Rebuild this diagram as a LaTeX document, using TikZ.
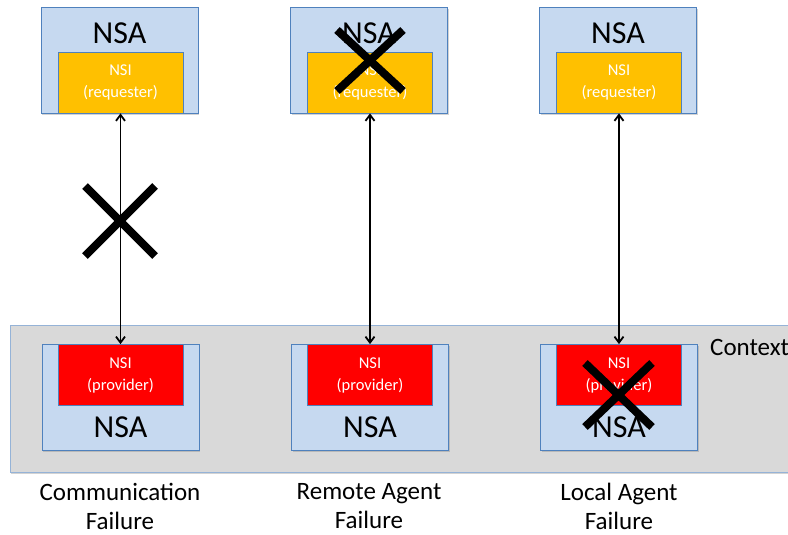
\documentclass[tikz,border=0pt]{standalone}
\usepackage{fontspec}
\setmainfont{Carlito}
\usetikzlibrary{positioning}
\usetikzlibrary{arrows.meta, shadows}

\definecolor{nsablue}{RGB}{198,217,240}
\definecolor{nsaline}{RGB}{79,129,189}
\definecolor{nsiorange}{RGB}{255,192,0}
\definecolor{ctxgray}{RGB}{217,217,217}
\definecolor{ctxline}{RGB}{149,179,215}

\begin{document}
\begin{tikzpicture}[x=1pt,y=1pt,
  agent/.style={rectangle,draw=nsaline,fill=nsablue,line width=0.8pt,minimum width=157pt,minimum height=106pt,inner sep=0pt,drop shadow={shadow xshift=1pt,shadow yshift=-2pt,opacity=0.35}},
  requester/.style={rectangle,draw=nsaline,fill=nsiorange,line width=0.8pt,minimum width=125pt,minimum height=61pt,inner sep=0pt,text=white,font=\fontsize{16.5}{22}\selectfont,align=center},
  provider/.style={requester,fill=red},
  agentlabel/.style={inner sep=0pt,font=\fontsize{32}{38}\selectfont},
  caption/.style={inner sep=0pt,font=\fontsize{25}{29}\selectfont,align=center},
  cross/.style={line width=8pt},
  link/.style={{Straight Barb[length=6pt,width=9pt]}-{Straight Barb[length=6pt,width=9pt]},line width=1.8pt}
]
\useasboundingbox (0,0) rectangle (788,-535);

\draw[fill=ctxgray,draw=ctxline,line width=1pt,drop shadow={shadow xshift=1pt,shadow yshift=-2pt,opacity=0.35}] (10,-325) rectangle (800,-472);
\node[caption,anchor=west] (ctx) at (710,-347) {Context};

\node[agent] (nsaT1) at (119.5,-60) {};
\node[agent] (nsaT2) at (369,-60) {};
\node[agent] (nsaT3) at (618,-60) {};
\node[agentlabel] (labT1) at (119.5,-33) {NSA};
\node[agentlabel] (labT2) at (369,-33) {NSA};
\node[agentlabel] (labT3) at (618,-33) {NSA};
\node[requester] (nsiT1) at (120.5,-82.5) {NSI\\(requester)};
\node[requester] (nsiT2) at (370,-82.5) {NSI\\(requester)};
\node[requester] (nsiT3) at (619,-82.5) {NSI\\(requester)};

\node[agent] (nsaB1) at (120.5,-397) {};
\node[agent] (nsaB2) at (370,-397) {};
\node[agent] (nsaB3) at (619,-397) {};
\node[agentlabel] (labB1) at (120.5,-427) {NSA};
\node[agentlabel] (labB2) at (370,-427) {NSA};
\node[agentlabel] (labB3) at (619,-427) {NSA};
\node[provider] (nsiB1) at (120.5,-375) {NSI\\(provider)};
\node[provider] (nsiB2) at (370,-375) {NSI\\(provider)};
\node[provider] (nsiB3) at (619,-375) {NSI\\(provider)};

\draw[link] (nsiT1.south) -- (nsiB1.north);
\draw[link] (nsiT2.south) -- (nsiB2.north);
\draw[link] (nsiT3.south) -- (nsiB3.north);

\node[caption] (cap1) at (120,-506) {Communication\\Failure};
\node[caption] (cap2) at (369,-506) {Remote Agent\\Failure};
\node[caption] (cap3) at (619,-506) {Local Agent\\Failure};

\draw[cross] (85,-186) -- (155,-256);
\draw[cross] (85,-256) -- (155,-186);
\draw[cross] (337,-30) -- (403,-91);
\draw[cross] (337,-91) -- (403,-30);
\draw[cross] (585,-363) -- (652,-427);
\draw[cross] (585,-427) -- (652,-363);

\end{tikzpicture}
\end{document}
